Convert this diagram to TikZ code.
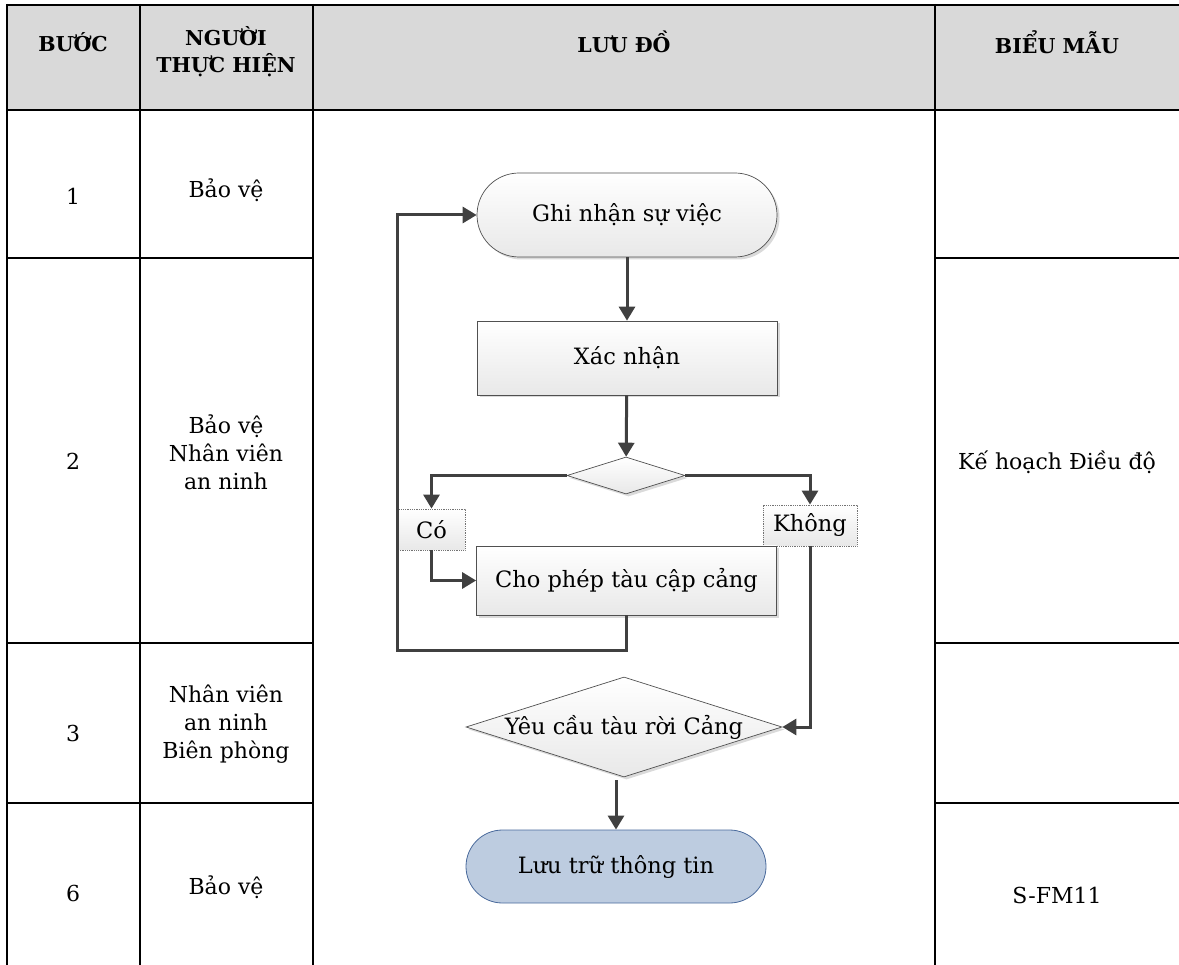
\documentclass[tikz,border=0pt]{standalone}
\usepackage{fontspec}
\setmainfont{DejaVu Serif}
\usetikzlibrary{shapes.geometric,arrows.meta,shadows}
\definecolor{hdrgray}{HTML}{D9D9D9}
\definecolor{conncol}{HTML}{404040}
\definecolor{shapeline}{HTML}{505050}
\definecolor{endfill}{HTML}{BDCCE0}
\definecolor{endline}{HTML}{4A6A9C}
\begin{document}
\begin{tikzpicture}[x=1pt,y=-1pt,
  grid/.style={line width=2.6pt,black},
  hdr/.style={font=\bfseries\fontsize{20.5}{27}\selectfont, align=center, inner sep=0pt},
  tbl/.style={font=\fontsize{22}{28}\selectfont, align=center, inner sep=0pt},
  flowtext/.style={font=\fontsize{22.5}{26}\selectfont},
  shd/.style={drop shadow={shadow xshift=2.5pt, shadow yshift=-2.5pt, fill=black!18, opacity=0.8}},
  procbox/.style={rectangle, draw=shapeline, line width=0.7pt, top color=white, bottom color=black!9, shd, flowtext, minimum width=300pt, minimum height=74pt},
  termbox/.style={rectangle, draw=shapeline, line width=0.7pt, top color=white, bottom color=black!9, shd, flowtext, minimum width=300pt, minimum height=84pt, rounded corners=42pt},
  decbox/.style={diamond, draw=shapeline, line width=0.7pt, top color=white, bottom color=black!9, shd, flowtext, inner sep=0pt, aspect=3.16, text height=15pt, text depth=0pt},
  lblbox/.style={rectangle, draw=black!55, densely dotted, line width=0.8pt, top color=white, bottom color=black!9, flowtext, minimum height=41pt, inner sep=0pt},
  conn/.style={line width=3pt, draw=conncol, -{Triangle[length=14pt,width=16pt]}},
]
\useasboundingbox (0,0) rectangle (1179,965);
% header background
\fill[hdrgray] (7,5) rectangle (1179,110);
% grid
\draw[grid] (7,5) -- (1179,5);
\draw[grid] (7,110) -- (1179,110);
\draw[grid] (7,4) -- (7,965);
\draw[grid] (140,4) -- (140,965);
\draw[grid] (313,4) -- (313,965);
\draw[grid] (935,4) -- (935,965);
\foreach \yy in {258,643,803} {
  \draw[grid] (6,\yy) -- (314,\yy);
  \draw[grid] (934,\yy) -- (1179,\yy);
}
% header text
\node[hdr] (hBuoc) at (73,42) {BƯỚC};
\node[hdr] (hNguoi) at (226,52) {NGƯỜI\\THỰC HIỆN};
\node[hdr] (hLuu) at (624,42) {LƯU ĐỒ};
\node[hdr] (hBieu) at (1057,42) {BIỂU MẪU};
% table cells
\node[tbl] (s1) at (73,196) {1};
\node[tbl] (p1) at (226,190) {Bảo vệ};
\node[tbl] (s2) at (73,461) {2};
\node[tbl] (p2) at (226,452) {Bảo vệ\\Nhân viên\\an ninh};
\node[tbl] (s3) at (73,733) {3};
\node[tbl] (p3) at (226,724) {Nhân viên\\an ninh\\Biên phòng};
\node[tbl] (s6) at (73,893) {6};
\node[tbl] (p6) at (226,887) {Bảo vệ};
\node[tbl] (f2) at (1057,462) {Kế hoạch Điều độ};
\node[tbl] (f6) at (1057,895) {S-FM11};
% flowchart
\node[termbox] (start) at (627,215) {Ghi nhận sự việc};
\node[procbox] (xac) at (627,358) {Xác nhận};
\node[decbox, minimum width=118pt, minimum height=37pt] (dec) at (626,475.5) {};
\node[lblbox, minimum width=67pt] (co) at (431.5,529.5) {Có};
\node[lblbox, minimum width=94pt] (khong) at (810,525.5) {Không};
\node[procbox, minimum height=69pt] (cho) at (626.5,580.5) {Cho phép tàu cập cảng};
\node[decbox, minimum width=316pt, minimum height=100pt] (yeu) at (624,727) {Yêu cầu tàu rời Cảng};
\node[rectangle, draw=endline, line width=0.8pt, fill=endfill, flowtext, minimum width=300pt, minimum height=73pt, rounded corners=36.5pt] (luu) at (616,866.5) {Lưu trữ thông tin};
\coordinate (lpA) at (397,650);
% connectors
\draw[conn] (start) -- (xac);
\draw[conn] (xac) -- (dec);
\draw[conn] (dec.west) -| (co.north);
\draw[conn] (dec.east) -| (khong.north);
\draw[conn] (co.south) |- (cho.west);
\draw[conn] (cho.south) |- (lpA) |- (start.west);
\draw[conn] (khong.south) |- (yeu.east);
\draw[conn] ([yshift=-3pt]yeu.south -| luu.north) -- (luu.north);
\end{tikzpicture}
\end{document}
